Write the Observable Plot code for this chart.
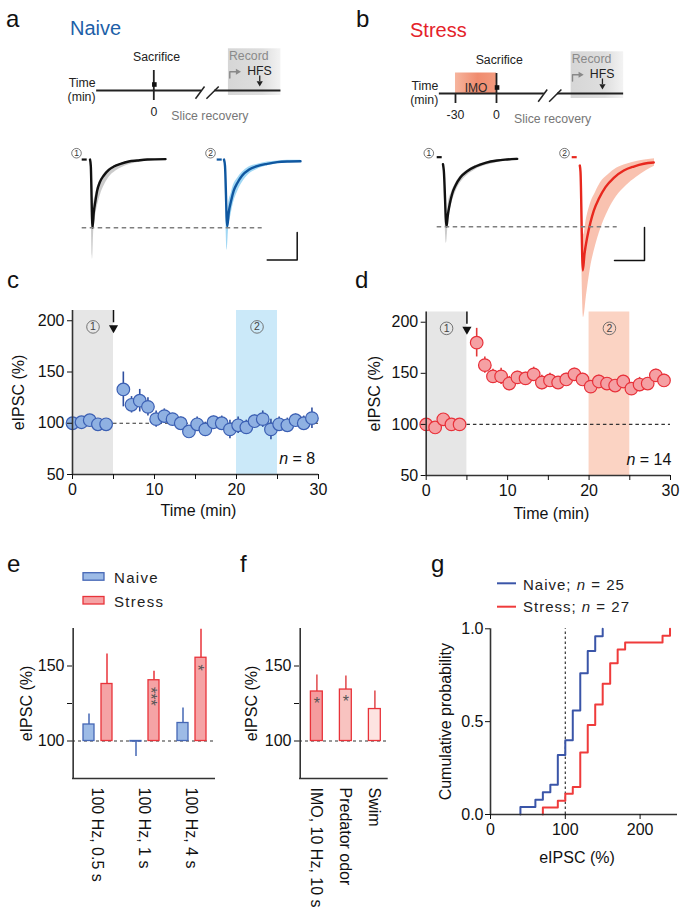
<!DOCTYPE html>
<html><head><meta charset="utf-8">
<script src="https://cdn.jsdelivr.net/npm/d3@7"></script>
<script src="https://cdn.jsdelivr.net/npm/@observablehq/plot@0.6"></script>
<style>
body{margin:0;background:#fff}
#fig{position:relative;width:685px;height:917px;overflow:hidden;background:#fff;font-family:"Liberation Sans",Arial,Helvetica,sans-serif}
#fig svg{position:absolute;overflow:visible}
</style></head><body><div id="fig"></div>
<script>
// ================= DATA =================
// --- a/b : example traces (t in ms from stimulus, amplitude in pA) ---
const n1T   = [-0.5, 0.3, 2, 3.3, 5, 6.7, 9.3, 13.3, 18.3, 23.3, 30, 38.3, 46.7, 56.7, 75];
const n1A   = [-4, -50, -500, -387, -302, -229, -169, -120, -79, -55, -35, -18, -11, -4, -1];
const n1EnvT= [0.3, 2, 3, 5, 7, 10, 14, 19, 25, 32, 40, 50, 60, 75];
const n1Lo  = [-50, -730, -560, -420, -340, -260, -190, -130, -90, -60, -38, -22, -12, -5];
const n1Hi  = [-45, -470, -340, -260, -200, -150, -105, -70, -48, -30, -15, -8, -2, 0];

const n2T   = [-0.5, 0.5, 2.7, 4.3, 6.7, 9.3, 12.7, 17.7, 24.3, 32.7, 42.7, 52.7, 62.7, 76];
const n2A   = [-4, -50, -491, -387, -302, -229, -176, -120, -79, -52, -35, -23, -18, -16];
const n2EnvT= [0.5, 2.7, 4, 6.7, 9, 13, 18, 24, 33, 43, 53, 63, 76];
const n2Lo  = [-50, -665, -520, -400, -320, -240, -170, -115, -75, -50, -35, -28, -22];
const n2Hi  = [-45, -460, -330, -250, -190, -140, -95, -60, -38, -22, -14, -10, -10];

const s1T   = [-0.5, 0.3, 3, 4.3, 6.3, 8.7, 12, 17, 23.7, 32, 42, 53.7, 63.7, 73.7];
const s1A   = [-45, -90, -498, -418, -333, -260, -200, -140, -96, -62, -35, -18, -11, -6];
const s1EnvT= [0.3, 3, 5, 8, 12, 17, 24, 32, 42, 54, 64, 74];
const s1Lo  = [-90, -620, -450, -340, -250, -180, -125, -85, -55, -32, -20, -10];
const s1Hi  = [-85, -470, -320, -250, -185, -130, -88, -55, -30, -14, -6, 0];

const s2T   = [-0.7, 0, 2.3, 4, 6.7, 10, 13.3, 18.3, 25, 33.3, 43.3, 53.3, 63.3, 73.3];
const s2A   = [-55, -100, -818, -697, -576, -467, -382, -297, -212, -144, -91, -62, -42, -33];
const s2EnvT= [0, 3, 6, 10, 15, 20, 28, 36, 46, 56, 66, 74];
const s2Lo  = [-100, -1160, -1000, -800, -640, -520, -380, -280, -200, -140, -90, -60];
const s2Hi  = [-95, -560, -440, -330, -250, -180, -120, -75, -45, -25, -12, -5];

const refAmp = -500;              // dashed reference (pA)
const scaleBarA = [30, 200];      // ms, pA
const scaleBarB = [30, 240];      // ms, pA

// --- a/b : protocol schematic (min) ---
const imoWindow = [-30, 0];
const naiveTicks = [{t: 0, label: "0"}];
const stressTicks = [{t: -30, label: "-30"}, {t: 0, label: "0"}];

// --- c/d : time course ---
const tcTimes = [0,1.1,2.1,3.1,4.1,6.2,7.2,8.2,9.2,10.2,11.2,12.2,13.2,14.2,15.2,16.2,17.2,18.2,19.2,20.2,21.2,22.2,23.2,24.2,25.2,26.2,27.2,28.2,29.2];
const naiveTC    = [100,101,103,99,99,133,118,122,116,104,107,104,100,92,99,94,101,100,94,98,96,102,104,94,99,98,103,100,105];
const naiveTCerr = [3,3,3,3,3,17,8,11,9,8,7,5,6,5,7,7,6,7,9,8,7,6,8,10,7,7,6,7,10];
const stressTC    = [100,97,105,100,100,180,158,147,147,140,146,145,149,141,143,141,144,149,144,137,142,140,138,142,135,139,140,148,143];
const stressTCerr = [3,4,3,3,3,14,8,7,8,7,6,6,7,7,7,6,6,6,6,6,6,6,6,6,6,7,6,6,6];
const baselineWin = [0, 5];
const sampleWin = [20, 25];
const hfsTime = 5;
const naiveN = 8, stressN = 14;

// --- e ---
const eGroups = ["100 Hz, 0.5 s", "100 Hz, 1 s", "100 Hz, 4 s"];
const eNaive = [111, 99.6, 112];
const eNaiveErr = [7, 10, 10];
const eStress = [138, 140.5, 155.5];
const eStressErr = [20, 6, 19];
const eStars = ["", "***", "*"];

// --- f ---
const fCats = ["IMO, 10 Hz, 10 s", "Predator odor", "Swim"];
const fVals = [133, 134.3, 121.3];
const fErr = [11, 9, 12];
const fStars = ["*", "*", ""];

// --- g ---
const gNaiveX = [40,60,70,80,90,100,110,120,130,140,150];
const gNaiveN = [1,1,1,1,4,2,4,5,3,2,1];
const gStressX = [70,90,100,110,120,130,140,150,160,170,180,230,240];
const gStressN = [1,1,1,1,5,4,3,3,3,2,1,1,1];

// ================= RENDER =================
const FONT = '"Liberation Sans", Arial, Helvetica, sans-serif';
const fig = document.getElementById("fig");
const baseStyle = {background: "transparent", overflow: "visible", fontFamily: FONT, fontSize: "16px", color: "#111"};
function place(svg, left, top) { svg.style.left = left + "px"; svg.style.top = top + "px"; svg.style.position = "absolute"; fig.appendChild(svg); return svg; }
function addDefs(svg, html) { const d = document.createElementNS("http://www.w3.org/2000/svg", "defs"); d.innerHTML = html; svg.insertBefore(d, svg.firstChild); }
function italicN(svg) {
  d3.select(svg).selectAll("text").each(function () {
    const m = this.textContent.match(/^n = (\d+)$/);
    if (m) { this.textContent = ""; const s = d3.select(this); s.append("tspan").attr("font-style", "italic").text("n"); s.append("tspan").text(" = " + m[1]); }
  });
}
const zip = (T, A) => T.map((t, i) => ({t, a: A[i]}));
const zipEnv = (T, L, H) => T.map((t, i) => ({t, lo: L[i], hi: H[i]}));
const yLabel = (s, dx) => Plot.text([s], {frameAnchor: "left", dx, rotate: -90, textAnchor: "middle", lineAnchor: "middle", text: d => d});
const xLabel = (s, dy, dx = 0) => Plot.text([s], {frameAnchor: "bottom", dy, dx, textAnchor: "middle", lineAnchor: "middle", text: d => d});

// ---------- schematic ----------
function schematic(o) {
  const W = o.w, H = 130, k = 1.367;
  const lineY = 90;
  const marks = [
    Plot.rect([0], {x1: 54.6, x2: 93, y1: 48.3, y2: 95, fill: `url(#${o.gid})`}),
  ];
  if (o.imo) {
    marks.push(Plot.rect([o.imo], {x1: d => d[0], x2: d => d[1], y1: 69.5, y2: lineY, fill: "url(#imoGrad)"}));
    marks.push(Plot.text(["IMO"], {x: (o.imo[0] + o.imo[1]) / 2, y: 88.5, text: d => d, lineAnchor: "bottom", fontSize: 12, fill: "#2a2a2a"}));
  }
  marks.push(
    Plot.ruleY([lineY], {x1: -41.8, x2: 35, stroke: "#222", strokeWidth: 1.8}),
    Plot.ruleY([lineY], {x1: 44.6, x2: 93, stroke: "#222", strokeWidth: 1.8}),
    Plot.link([{x1: 30.5, y1: 98.3, x2: 37.1, y2: 86}, {x1: 38.5, y1: 98.3, x2: 47.5, y2: 86}], {x1: "x1", y1: "y1", x2: "x2", y2: "y2", stroke: "#222", strokeWidth: 1.5}),
    Plot.ruleX(o.ticks, {x: "t", y1: lineY, y2: 100, stroke: "#222", strokeWidth: 1.8}),
    Plot.ruleX([0], {y1: 70, y2: lineY, stroke: "#222", strokeWidth: 1.8}),
    Plot.dot([0], {x: d => d + 0.4, y: 84, symbol: "square", r: 2.6, fill: "#111"}),
    Plot.text(o.ticks, {x: "t", y: 115.5, text: "label", lineAnchor: "bottom", fontSize: 12.3, fill: "#222"}),
    Plot.text(["Sacrifice"], {x: 2, y: 60.7, text: d => d, lineAnchor: "bottom", fontSize: 12.3, fill: "#222"}),
    Plot.text(["Time", "(min)"], {x: -42.6, y: (d, i) => i ? 100 : 86, text: d => d, textAnchor: "end", lineAnchor: "bottom", fontSize: 12.3, fill: "#222"}),
    Plot.text(["Slice recovery"], {x: 12.8, y: 119.5, text: d => d, textAnchor: "start", lineAnchor: "bottom", fontSize: 12.3, fill: "#777"}),
    Plot.text(["Record"], {x: 55, y: 59.5, text: d => d, textAnchor: "start", lineAnchor: "bottom", fontSize: 12.3, fill: "#8a8a8a"}),
    Plot.text(["HFS"], {x: 68.3, y: 74, text: d => d, textAnchor: "start", lineAnchor: "bottom", fontSize: 12.3, fill: "#222"}),
    Plot.ruleX([77.5], {y1: 75.5, y2: 81, stroke: "#222", strokeWidth: 1.3}),
    Plot.dot([77.5], {x: d => d, y: 82.5, symbol: "triangle", r: 2.3, fill: "#222", rotate: 180}),
    Plot.line([{x: 55.6, y: 77.5}, {x: 55.6, y: 71.3}, {x: 60.5, y: 71.3}], {x: "x", y: "y", stroke: "#888", strokeWidth: 1.4}),
    Plot.dot([61.3], {x: d => d, y: 71.3, symbol: "triangle", r: 2.2, fill: "#888", rotate: 90})
  );
  const svg = Plot.plot({
    width: W, height: H, margin: 0, style: baseStyle,
    x: {domain: [-o.zeroPx / k, (W - o.zeroPx) / k], range: [0, W], axis: null},
    y: {domain: [0, H], range: [0, H], axis: null},
    marks
  });
  addDefs(svg, `<linearGradient id="${o.gid}" x1="0" x2="1" y1="0" y2="0"><stop offset="0" stop-color="#d6d6d6"/><stop offset="0.65" stop-color="#dedede"/><stop offset="1" stop-color="#f3f3f3"/></linearGradient>
  <linearGradient id="imoGrad" x1="0" x2="1" y1="0" y2="0"><stop offset="0" stop-color="#f6b59e"/><stop offset="0.55" stop-color="#f08c6f"/><stop offset="1" stop-color="#f29a7e"/></linearGradient>`);
  return svg;
}
place(schematic({w: 340, zeroPx: 153.3, ticks: naiveTicks, gid: "recA"}), 0, 0);
place(schematic({w: 345, zeroPx: 156, ticks: stressTicks, gid: "recB", imo: imoWindow}), 340, 2.8);

// ---------- traces ----------
function traceRow(o) {
  const marks = [];
  o.traces.forEach(tr => {
    marks.push(Plot.areaY(zipEnv(tr.envT, tr.lo, tr.hi), {x: d => d.t + tr.off, y1: "lo", y2: "hi", fill: tr.env, fillOpacity: tr.envOp, curve: "monotone-x"}));
    marks.push(Plot.line(zip(tr.T, tr.A), {x: d => d.t + tr.off, y: "a", stroke: tr.col, strokeWidth: 2.4, curve: "monotone-x"}));
    marks.push(Plot.ruleY([tr.baseA], {x1: tr.off + tr.dash[0], x2: tr.off + tr.dash[1], stroke: tr.col, strokeWidth: 2.2}));
    marks.push(Plot.dot([tr.num], {x: () => tr.numXY[0], y: () => tr.numXY[1], r: 4.8, fill: "white", stroke: "#555", strokeWidth: 0.8}));
    marks.push(Plot.text([tr.num], {x: () => tr.numXY[0], y: () => tr.numXY[1], text: d => d, fontSize: 8.5, fill: "#333"}));
  });
  marks.push(Plot.ruleY([refAmp], {x1: o.dashX[0], x2: o.dashX[1], stroke: "#7f7f7f", strokeWidth: 1.4, strokeDasharray: "4.5,3.5"}));
  const [sx, sy] = o.sb, [cx, cy] = o.sbCorner;
  marks.push(Plot.line([{x: cx - sx, y: cy}, {x: cx, y: cy}, {x: cx, y: cy + sy}], {x: "x", y: "y", stroke: "#111", strokeWidth: 1.5}));
  return Plot.plot({
    width: o.w, height: o.h, margin: 0, style: baseStyle,
    x: {domain: [0, o.w], axis: null}, y: {domain: o.ydom, axis: null},
    marks
  });
}
place(traceRow({
  w: 340, h: 130, ydom: [-811, 134.5], dashX: [81.7, 261.7], sb: scaleBarA, sbCorner: [296.7, -735],
  traces: [
    {T: n1T, A: n1A, envT: n1EnvT, lo: n1Lo, hi: n1Hi, off: 90, col: "#111", env: "#c2c2c2", envOp: 0.85, baseA: -4, dash: [-8.3, -3.3], num: "1", numXY: [76, 42]},
    {T: n2T, A: n2A, envT: n2EnvT, lo: n2Lo, hi: n2Hi, off: 224, col: "#0f57a0", env: "#8fd0f2", envOp: 0.85, baseA: -4, dash: [-7.3, -2.3], num: "2", numXY: [210, 42]}
  ]
}), 0, 140);
place(traceRow({
  w: 345, h: 185, ydom: [-1218, 127.3], dashX: [96.7, 276.7], sb: scaleBarB, sbCorner: [304, -745],
  traces: [
    {T: s1T, A: s1A, envT: s1EnvT, lo: s1Lo, hi: s1Hi, off: 103, col: "#111", env: "#c2c2c2", envOp: 0.85, baseA: 6, dash: [-6.3, -1.3], num: "1", numXY: [88.3, 35]},
    {T: s2T, A: s2A, envT: s2EnvT, lo: s2Lo, hi: s2Hi, off: 240, col: "#e8281e", env: "#f7ad95", envOp: 0.75, baseA: 6, dash: [-8.3, -3.3], num: "2", numXY: [224, 35]}
  ]
}), 340, 140);

// ---------- time courses ----------
function timecourse(o) {
  const rows = tcTimes.map((t, i) => ({t, v: o.vals[i], e: o.errs[i]}));
  const nums = [{x: (baselineWin[0] + baselineWin[1]) / 2, label: "1"}, {x: (sampleWin[0] + sampleWin[1]) / 2, label: "2"}];
  const svg = Plot.plot({
    width: o.w, height: 225, marginLeft: o.ml, marginRight: o.mr, marginTop: o.mt, marginBottom: o.mb,
    style: baseStyle,
    x: {domain: [0, 30]}, y: {domain: [50, 210]},
    marks: [
      Plot.rect([baselineWin], {x1: d => d[0], x2: d => d[1], y1: 50, y2: 210, fill: "#e6e6e6"}),
      Plot.rect([sampleWin], {x1: d => d[0], x2: d => d[1], y1: 50, y2: 210, fill: o.shade}),
      Plot.ruleY([100], {x1: hfsTime, x2: 30, stroke: "#333", strokeDasharray: "3.5,3", strokeWidth: 1.2}),
      Plot.ruleX(rows, {x: "t", y1: d => d.v - d.e, y2: d => d.v + d.e, stroke: o.errc, strokeWidth: 1.6}),
      Plot.dot(rows, {x: "t", y: "v", r: 6.3, fill: o.fill, stroke: o.stroke, strokeWidth: 1.2}),
      Plot.ruleX([0], {y1: 50, y2: 210, stroke: "#333", strokeWidth: 1.6}),
      Plot.ruleY([50], {x1: 0, x2: 30, stroke: "#333", strokeWidth: 1.4}),
      Plot.axisY({ticks: [50, 100, 150, 200], tickSize: 5, tickPadding: 3, label: null}),
      Plot.axisX({ticks: [0, 5, 10, 15, 20, 25, 30], tickFormat: d => d % 10 === 0 ? d : "", tickSize: 5, tickPadding: 4, label: null}),
      Plot.ruleX([hfsTime], {y1: 210, y2: 198, stroke: "#111", strokeWidth: 1.5}),
      Plot.dot([hfsTime], {x: d => d, y: 193, symbol: "triangle", r: 3.4, fill: "#111", rotate: 180}),
      Plot.dot(nums, {x: "x", y: 194, r: 6.3, fill: "none", stroke: "#666", strokeWidth: 0.9}),
      Plot.text(nums, {x: "x", y: 194, text: "label", fontSize: 10.5, fill: "#444"}),
      Plot.text([o.n], {x: o.nx, y: 65, text: d => `n = ${d}`, textAnchor: "end", fontSize: 16}),
      yLabel("eIPSC (%)", o.ylx),
      xLabel("Time (min)", o.xly, 3)
    ]
  });
  italicN(svg);
  return svg;
}
place(timecourse({w: 335, ml: 72, mr: 17, mt: 15, mb: 46, vals: naiveTC, errs: naiveTCerr, n: naiveN, nx: 29.6,
  shade: "#cbe9f9", fill: "#8fb1e2", stroke: "#3b5fb3", errc: "#2f4f9f", ylx: -54, xly: 36}), 0, 295);
place(timecourse({w: 345, ml: 85.7, mr: 15, mt: 16.5, mb: 45, vals: stressTC, errs: stressTCerr, n: stressN, nx: 30.1,
  shade: "#fbd3c3", fill: "#f5a0a3", stroke: "#e8313a", errc: "#e23a3a", ylx: -51, xly: 38}), 340, 295);

// ---------- e ----------
const errEnd = d => d.v >= 100 ? d.v + d.e : d.v - d.e;
{
  const nRows = eGroups.map((g, i) => ({g, v: eNaive[i], e: eNaiveErr[i]}));
  const sRows = eGroups.map((g, i) => ({g, v: eStress[i], e: eStressErr[i], star: eStars[i]}));
  const band = (230 - 72 - 15) / eGroups.length;
  const svg = Plot.plot({
    width: 230, height: 300, marginLeft: 72, marginRight: 15, marginTop: 18, marginBottom: 132,
    style: baseStyle,
    x: {domain: eGroups, padding: 0, axis: null}, y: {domain: [75, 175]},
    marks: [
      Plot.ruleY([100], {stroke: "#333", strokeDasharray: "3,3", strokeWidth: 1.2}),
      Plot.ruleX(nRows, {x: "g", y1: "v", y2: errEnd, dx: -8, stroke: "#4567b5", strokeWidth: 1.5}),
      Plot.ruleX(sRows, {x: "g", y1: "v", y2: errEnd, dx: 10, stroke: "#e8333a", strokeWidth: 1.5}),
      Plot.barY(nRows, {x: "g", y1: 100, y2: "v", insetLeft: 10, insetRight: 26, fill: "#9dbbe6", stroke: "#4567b5", strokeWidth: 1.3}),
      Plot.barY(sRows, {x: "g", y1: 100, y2: "v", insetLeft: 28, insetRight: 8, fill: "#f5a3a5", stroke: "#e8333a", strokeWidth: 1.3}),
      Plot.text(sRows.filter(d => d.star), {x: "g", y: d => d.v - 4.5, text: "star", dx: 6, rotate: 90, textAnchor: "start", lineAnchor: "middle", fontSize: 16, fill: "#555"}),
      Plot.ruleX([eGroups[0]], {y1: 75, y2: 175, dx: -band / 2, stroke: "#333", strokeWidth: 1.6}),
      Plot.ruleY([75], {stroke: "#333", strokeWidth: 1.4}),
      Plot.axisY({ticks: [100, 125, 150], tickFormat: d => d === 125 ? "" : d, tickSize: 5, tickPadding: 3, label: null}),
      yLabel("eIPSC (%)", -46),
      Plot.text(eGroups, {x: d => d, text: d => d, frameAnchor: "bottom", dy: 9, rotate: 90, textAnchor: "start", lineAnchor: "middle"})
    ]
  });
  place(svg, 0, 610);
}

// ---------- f ----------
{
  const fFills = ["#f59c9e", "#f8c3c0", "#fde3e1"];
  const rows = fCats.map((c, i) => ({c, v: fVals[i], e: fErr[i], star: fStars[i], fill: fFills[i]}));
  const band = (175 - 69 - 17.3) / fCats.length;
  const svg = Plot.plot({
    width: 175, height: 300, marginLeft: 69, marginRight: 17.3, marginTop: 18, marginBottom: 132,
    style: baseStyle,
    color: {type: "identity"},
    x: {domain: fCats, padding: 0, axis: null}, y: {domain: [75, 175]},
    marks: [
      Plot.ruleY([100], {stroke: "#333", strokeDasharray: "3,3", strokeWidth: 1.2}),
      Plot.ruleX(rows, {x: "c", y1: "v", y2: errEnd, dx: 1.9, stroke: "#e0474b", strokeWidth: 1.5}),
      Plot.barY(rows, {x: "c", y1: 100, y2: "v", insetLeft: 10.4, insetRight: 6.7, fill: "fill", stroke: "#e8333a", strokeWidth: 1.3}),
      Plot.text(rows.filter(d => d.star), {x: "c", y: d => d.v - 8, text: "star", dx: 1.9, fontSize: 16, fill: "#555"}),
      Plot.ruleX([fCats[0]], {y1: 75, y2: 175, dx: -band / 2, stroke: "#333", strokeWidth: 1.6}),
      Plot.ruleY([75], {stroke: "#333", strokeWidth: 1.4}),
      Plot.axisY({ticks: [100, 125, 150], tickFormat: d => d === 125 ? "" : d, tickSize: 5, tickPadding: 3, label: null}),
      yLabel("eIPSC (%)", -48),
      Plot.text(fCats, {x: d => d, text: d => d, frameAnchor: "bottom", dy: 9, dx: 1.5, rotate: 90, textAnchor: "start", lineAnchor: "middle"})
    ]
  });
  place(svg, 230, 610);
}

// ---------- g ----------
function ecdf(xs, ns) { const total = d3.sum(ns); let c = 0; const pts = [{x: xs[0], p: 0}]; xs.forEach((x, i) => { c += ns[i]; pts.push({x, p: c / total}); }); return pts; }
{
  const svg = Plot.plot({
    width: 255, height: 300, marginLeft: 60, marginRight: 8, marginTop: 18.3, marginBottom: 96,
    style: baseStyle,
    x: {domain: [0, 250]}, y: {domain: [0, 1]},
    marks: [
      Plot.ruleX([100], {y1: 0, y2: 1, stroke: "#333", strokeDasharray: "2.5,2.5", strokeWidth: 1.2}),
      Plot.line(ecdf(gNaiveX, gNaiveN), {x: "x", y: "p", curve: "step-after", stroke: "#3a55a8", strokeWidth: 2}),
      Plot.line(ecdf(gStressX, gStressN), {x: "x", y: "p", curve: "step-after", stroke: "#ef3b3b", strokeWidth: 2}),
      Plot.ruleX([0], {y1: 0, y2: 1, stroke: "#333", strokeWidth: 1.6}),
      Plot.ruleY([0], {x1: 0, x2: 250, stroke: "#333", strokeWidth: 1.4}),
      Plot.axisY({ticks: [0, 0.5, 1], tickFormat: d3.format(".1f"), tickSize: 5, tickPadding: 2, label: null}),
      Plot.axisX({ticks: [0, 100, 200], tickSize: 5, tickPadding: 4, label: null}),
      yLabel("Cumulative probability", -45),
      xLabel("eIPSC (%)", 43, -7)
    ]
  });
  place(svg, 430, 610);
}

// ---------- overlay: panel letters, titles, legends ----------
{
  const ov = d3.create("svg").attr("width", 685).attr("height", 917)
    .style("position", "absolute").style("left", "0px").style("top", "0px").style("font-family", FONT);
  const letters = [["a", 6, 27], ["b", 356, 27], ["c", 7, 288], ["d", 355, 288], ["e", 7, 572], ["f", 240, 572], ["g", 431, 572]];
  ov.selectAll("text.l").data(letters).join("text").attr("class", "l")
    .attr("x", d => d[1]).attr("y", d => d[2]).attr("font-size", 24).attr("fill", "#111").text(d => d[0]);
  ov.append("text").attr("x", 70).attr("y", 35).attr("font-size", 20).attr("fill", "#1d5fa8").text("Naive");
  ov.append("text").attr("x", 410).attr("y", 37).attr("font-size", 20).attr("fill", "#e42229").text("Stress");
  // legend e
  const le = [["Naive", "#9dbbe6", "#4567b5", 572.7, 583.3], ["Stress", "#f5a3a5", "#e8333a", 596.5, 606.7]];
  le.forEach(([t, f, s, y, by]) => {
    ov.append("rect").attr("x", 83).attr("y", y).attr("width", 21).attr("height", 7.5).attr("fill", f).attr("stroke", s).attr("stroke-width", 1.3);
    ov.append("text").attr("x", 114).attr("y", by).attr("font-size", 15).attr("letter-spacing", 1.3).attr("fill", "#222").text(t);
  });
  // legend g
  const lg = [["Naive; ", "25", "#3a55a8", 583.3, 590], ["Stress; ", "27", "#ef3b3b", 606.7, 611.7]];
  lg.forEach(([t, n, c, y, by]) => {
    ov.append("line").attr("x1", 497).attr("x2", 516).attr("y1", y).attr("y2", y).attr("stroke", c).attr("stroke-width", 2);
    const tx = ov.append("text").attr("x", 523).attr("y", by).attr("font-size", 15).attr("letter-spacing", 1).attr("fill", "#222");
    tx.append("tspan").text(t);
    tx.append("tspan").attr("font-style", "italic").text("n");
    tx.append("tspan").text(" = " + n);
  });
  fig.appendChild(ov.node());
}
</script></body></html>
